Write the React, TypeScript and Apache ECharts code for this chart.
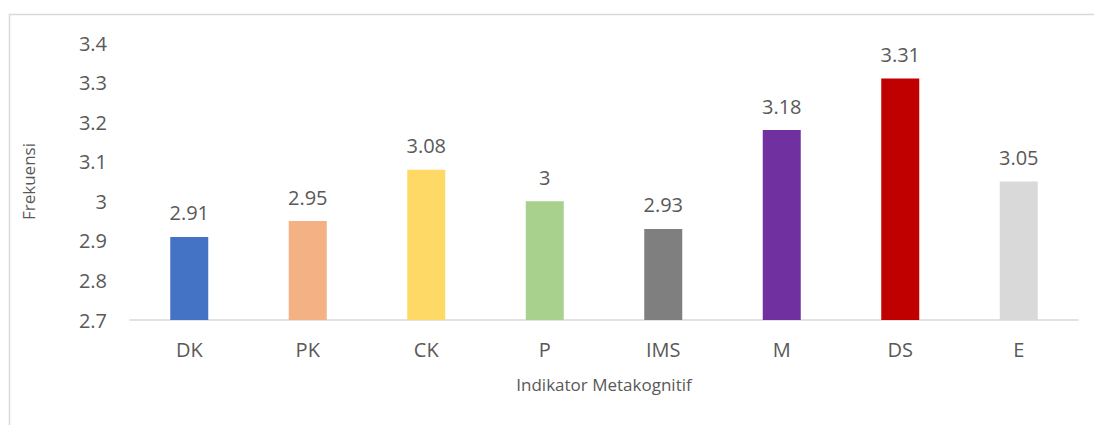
import React, { useEffect, useRef } from "react";
import * as echarts from "echarts";

const categories = ["DK", "PK", "CK", "P", "IMS", "M", "DS", "E"];
const values = [2.91, 2.95, 3.08, 3, 2.93, 3.18, 3.31, 3.05];
const barColors = ["#4472C4", "#F4B183", "#FFD966", "#A9D18E", "#7F7F7F", "#7030A0", "#C00000", "#D9D9D9"];

const FONT = "Open Sans";

export default function App() {
  const ref = useRef<HTMLDivElement>(null);
  useEffect(() => {
    if (!ref.current) return;
    const chart = echarts.init(ref.current, undefined, { renderer: "svg" });
    chart.setOption({
      animation: false,
      backgroundColor: "#ffffff",
      textStyle: { fontFamily: FONT },
      graphic: [
        {
          type: "rect",
          shape: { x: 9.5, y: 14.5, width: 1200, height: 600 },
          style: { fill: "none", stroke: "#d9d9d9", lineWidth: 1.5 },
          silent: true,
        },
      ],
      grid: { left: 130, right: 16, top: 43, bottom: 105 },
      xAxis: {
        type: "category",
        data: categories,
        name: "Indikator Metakognitif",
        nameLocation: "middle",
        nameGap: 56,
        nameTextStyle: { color: "#595959", fontSize: 17, fontFamily: FONT, verticalAlign: "top" },
        axisLine: { show: true, lineStyle: { color: "#d9d9d9", width: 1.5 } },
        axisTick: { show: false },
        axisLabel: { color: "#595959", fontSize: 20, fontFamily: FONT, margin: 19, verticalAlign: "top" },
      },
      yAxis: {
        type: "value",
        min: 2.7,
        max: 3.4,
        interval: 0.1,
        name: "Frekuensi",
        nameLocation: "middle",
        nameGap: 93,
        nameTextStyle: { color: "#595959", fontSize: 17, fontFamily: FONT },
        axisLine: { show: false },
        axisTick: { show: false },
        splitLine: { show: false },
        axisLabel: { color: "#595959", fontSize: 20, fontFamily: FONT, margin: 23 },
      },
      series: [
        {
          type: "bar",
          data: values.map((v, i) => ({ value: v, itemStyle: { color: barColors[i] } })),
          barWidth: 38,
          label: {
            show: true,
            position: "top",
            distance: 14,
            color: "#595959",
            fontSize: 20,
            fontFamily: FONT,
          },
        },
      ],
    });
    return () => chart.dispose();
  }, []);
  return (
    <div
      ref={ref}
      style={{ position: "fixed", left: 0, top: 0, width: 1094, height: 425 }}
    />
  );
}
